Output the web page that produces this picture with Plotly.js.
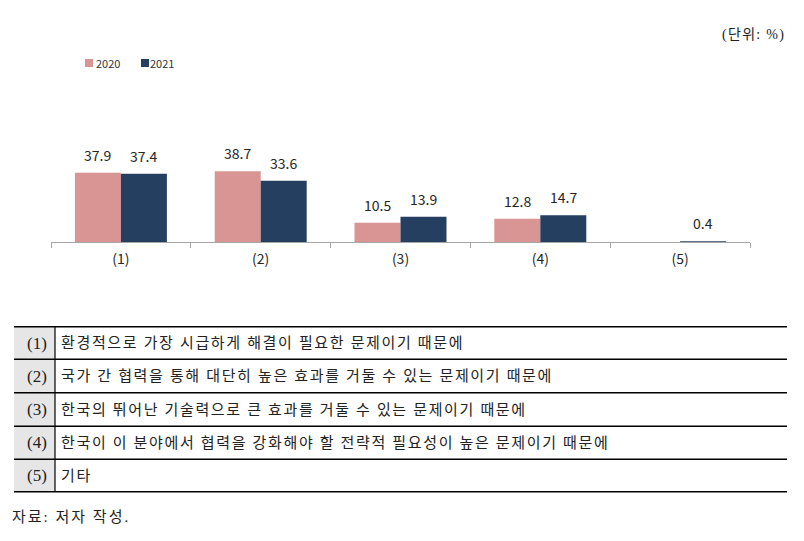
<!DOCTYPE html>
<html>
<head>
<meta charset="utf-8">
<script src="https://cdn.plot.ly/plotly-3.0.1.min.js"></script>
<style>html,body{margin:0;padding:0;background:#fff;}#chart{width:804px;height:541px;}</style>
</head>
<body>
<div id="chart"></div>
<script>
var categories = ["(1)", "(2)", "(3)", "(4)", "(5)"];
var series2020 = [37.9, 38.7, 10.5, 12.8, null];
var series2021 = [37.4, 33.6, 13.9, 14.7, 0.4];
var seriesNames = ["2020", "2021"];
var tableLabels = ["(1)", "(2)", "(3)", "(4)", "(5)"];
var tableTexts = [
  "환경적으로 가장 시급하게 해결이 필요한 문제이기 때문에",
  "국가 간 협력을 통해 대단히 높은 효과를 거둘 수 있는 문제이기 때문에",
  "한국의 뛰어난 기술력으로 큰 효과를 거둘 수 있는 문제이기 때문에",
  "한국이 이 분야에서 협력을 강화해야 할 전략적 필요성이 높은 문제이기 때문에",
  "기타"
];
var unitText = "(단위: %)";
var sourceText = "자료: 저자 작성.";

var W = 804, H = 541;
function px(x) { return x / W; }
function py(y) { return 1 - y / H; }

var colors = ["#d99594", "#243f60"];
var sansFont = "'Noto Sans CJK KR', 'Noto Sans', sans-serif";
var serifFont = "'Liberation Serif', 'Noto Sans CJK KR', serif";

var traces = [
  {type: "bar", name: seriesNames[0], x: categories, y: series2020, marker: {color: colors[0]}, showlegend: false, hoverinfo: "x+y"},
  {type: "bar", name: seriesNames[1], x: categories, y: series2021, marker: {color: colors[1]}, showlegend: false, hoverinfo: "x+y"}
];

var annotations = [];
var shapes = [];
var spaced = []; // [annotation index, letter-spacing px]
var barHalf = 23;
[series2020, series2021].forEach(function (arr, si) {
  arr.forEach(function (v, i) {
    if (v === null || v === undefined) return;
    annotations.push({
      x: categories[i], y: v, xref: "x", yref: "y",
      text: v.toFixed(1), showarrow: false,
      xshift: si === 0 ? -barHalf : barHalf, yshift: 6,
      yanchor: "bottom", xanchor: "center",
      font: {family: sansFont, size: 14, color: "#262626"}
    });
  });
});

// custom legend
var legendItems = [{x: 85, tx: 96}, {x: 141, tx: 150}];
seriesNames.forEach(function (n, i) {
  var it = legendItems[i];
  shapes.push({type: "rect", xref: "paper", yref: "paper", x0: px(it.x), x1: px(it.x + 8), y0: py(67), y1: py(59), fillcolor: colors[i], line: {width: 0}});
  annotations.push({xref: "paper", yref: "paper", x: px(it.tx - 2), y: py(63), xanchor: "left", yanchor: "middle", text: n, showarrow: false, font: {family: sansFont, size: 11, color: "#333333"}});
});

// unit
spaced.push([annotations.length, 1.3]);
annotations.push({xref: "paper", yref: "paper", x: px(720), y: py(35), xanchor: "left", yanchor: "middle", align: "left", text: unitText, showarrow: false, font: {family: serifFont, size: 14, color: "#222222"}});

// table
var rowLines = [326.7, 359.3, 392.8, 426.2, 459.3, 491.7];
var tLeft = 14, tSplit = 55, tRight = 787;
shapes.push({type: "rect", xref: "paper", yref: "paper", x0: px(tLeft), x1: px(tSplit), y0: py(rowLines[0]), y1: py(rowLines[5]), fillcolor: "#e6e6e6", line: {width: 0}, layer: "below"});
rowLines.forEach(function (yy) {
  shapes.push({type: "line", xref: "paper", yref: "paper", x0: px(tLeft), x1: px(tRight), y0: py(yy), y1: py(yy), line: {color: "#000000", width: 1.4}});
});
shapes.push({type: "line", xref: "paper", yref: "paper", x0: px(tSplit), x1: px(tSplit), y0: py(rowLines[0]), y1: py(rowLines[5]), line: {color: "#000000", width: 1.2}});
tableTexts.forEach(function (t, i) {
  var yc = (rowLines[i] + rowLines[i + 1]) / 2;
  annotations.push({xref: "paper", yref: "paper", x: px(37), y: py(yc), xanchor: "center", yanchor: "middle", text: tableLabels[i], showarrow: false, font: {family: serifFont, size: 17, color: "#222222"}});
  spaced.push([annotations.length, 1.65]);
  annotations.push({xref: "paper", yref: "paper", x: px(59), y: py(yc), xanchor: "left", yanchor: "middle", align: "left", text: t, showarrow: false, font: {family: serifFont, size: 15, color: "#222222"}});
});
spaced.push([annotations.length, 2.0]);
annotations.push({xref: "paper", yref: "paper", x: px(10), y: py(517), xanchor: "left", yanchor: "middle", align: "left", text: sourceText, showarrow: false, font: {family: serifFont, size: 15, color: "#222222"}});

var layout = {
  width: W, height: H,
  margin: {l: 0, r: 0, t: 0, b: 0, pad: 0},
  paper_bgcolor: "#ffffff", plot_bgcolor: "#ffffff",
  barmode: "group", bargap: 0.342, bargroupgap: 0,
  showlegend: false,
  xaxis: {
    domain: [px(51), px(750)], type: "category",
    showline: true, linecolor: "#a6a6a6", linewidth: 1,
    ticks: "outside", tickson: "boundaries", ticklen: 5, tickcolor: "#a6a6a6", tickwidth: 1,
    ticklabelstandoff: 4,
    showgrid: false, zeroline: false,
    tickfont: {family: sansFont, size: 14, color: "#262626"}
  },
  yaxis: {
    domain: [py(242), py(150.75)], range: [0, 50],
    visible: false, showgrid: false, zeroline: false, fixedrange: true
  },
  annotations: annotations,
  shapes: shapes,
  font: {family: sansFont}
};

Plotly.newPlot("chart", traces, layout, {displayModeBar: false, staticPlot: true}).then(function (gd) {
  spaced.forEach(function (s) {
    var g = gd.querySelector('.annotation[data-index="' + s[0] + '"] text.annotation-text');
    if (g) g.style.letterSpacing = s[1] + "px";
  });
});
</script>
</body>
</html>
